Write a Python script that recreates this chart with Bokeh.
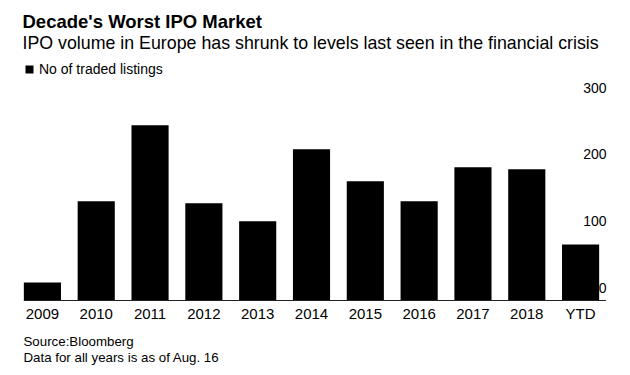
from bokeh.plotting import figure
from bokeh.models import Range1d, FactorRange, Label, ColumnDataSource
from bokeh.embed import file_html
from bokeh.resources import INLINE
from bokeh.core.properties import value

categories = ["2009", "2010", "2011", "2012", "2013", "2014", "2015", "2016", "2017", "2018", "YTD"]
listings = [27, 149, 263, 146, 119, 227, 179, 149, 200, 197, 84]
y_ticks = [0, 100, 200, 300]
y_tick_labels = ["0", "100", "200", "300"]

title_text = "Decade's Worst IPO Market"
subtitle_text = "IPO volume in Europe has shrunk to levels last seen in the financial crisis"
series_name = "No of traded listings"
source_text = "Source:Bloomberg"
note_text = "Data for all years is as of Aug. 16"

FONT = "Liberation Sans"
W, H = 630, 375
FRAME_LEFT, FRAME_RIGHT = 15, 23
BASE_Y = 300          # pixel row of the zero line
PX_PER_UNIT = 200 / 300

src = ColumnDataSource(dict(cat=categories, val=listings))

# the frame covers the full height so that all texts can live inside it
p = figure(width=W, height=H,
           x_range=FactorRange(*categories, range_padding=0),
           y_range=Range1d(-(H - BASE_Y) / PX_PER_UNIT, BASE_Y / PX_PER_UNIT),
           output_backend="svg", toolbar_location=None,
           x_axis_location=None, y_axis_location=None,
           min_border_left=FRAME_LEFT, min_border_right=FRAME_RIGHT,
           min_border_top=0, min_border_bottom=0,
           outline_line_color=None, background_fill_color="white",
           border_fill_color="white")
p.title.visible = False

p.vbar(x="cat", top="val", width=0.69, source=src,
       fill_color="black", line_color=None, legend_label=series_name)

p.xgrid.visible = False
p.ygrid.visible = False

# zero baseline, from the first bar's left edge to the value labels' right edge
p.segment(x0=[(categories[0], -0.345)], y0=[0], x1=[(categories[-1], 0.47)], y1=[0],
          line_color="#222222", line_width=1)

# category labels under the baseline
p.text(x=categories, y=[0] * len(categories), text=categories,
       y_offset=13, text_align="center", text_baseline="middle",
       text_font=value(FONT), text_font_size="15px", text_color="black")

# right-side value labels, sitting just above their tick level
p.text(x=[categories[-1]] * len(y_ticks), y=y_ticks, text=y_tick_labels,
       x_offset=26, y_offset=-13,
       text_align="right", text_baseline="middle",
       text_font=value(FONT), text_font_size="14px", text_color="black")

lg = p.legend[0]
lg.location = (9, H - 77)
lg.margin = 0
lg.padding = 0
lg.spacing = 0
lg.glyph_width = 10
lg.glyph_height = 10
lg.label_height = 10
lg.label_standoff = 5
lg.label_text_font = FONT
lg.label_text_font_size = "14px"
lg.label_text_color = "black"
lg.border_line_alpha = 0
lg.background_fill_alpha = 0

# screen units for labels are measured from the frame's bottom-left corner
def add_label(text, x, y, size, bold=False):
    p.add_layout(Label(x=x - FRAME_LEFT, y=H - y,
                       x_units="screen", y_units="screen", text=text,
                       text_font=FONT, text_font_size=size,
                       text_font_style="bold" if bold else "normal",
                       text_color="black", text_baseline="middle"))

add_label(title_text, 22, 21, "18.5px", bold=True)
add_label(subtitle_text, 22, 42.5, "17.8px")
add_label(source_text, 23, 341, "13.3px")
add_label(note_text, 23, 357, "13.3px")

open("out.html", "w").write(file_html(p, INLINE))
